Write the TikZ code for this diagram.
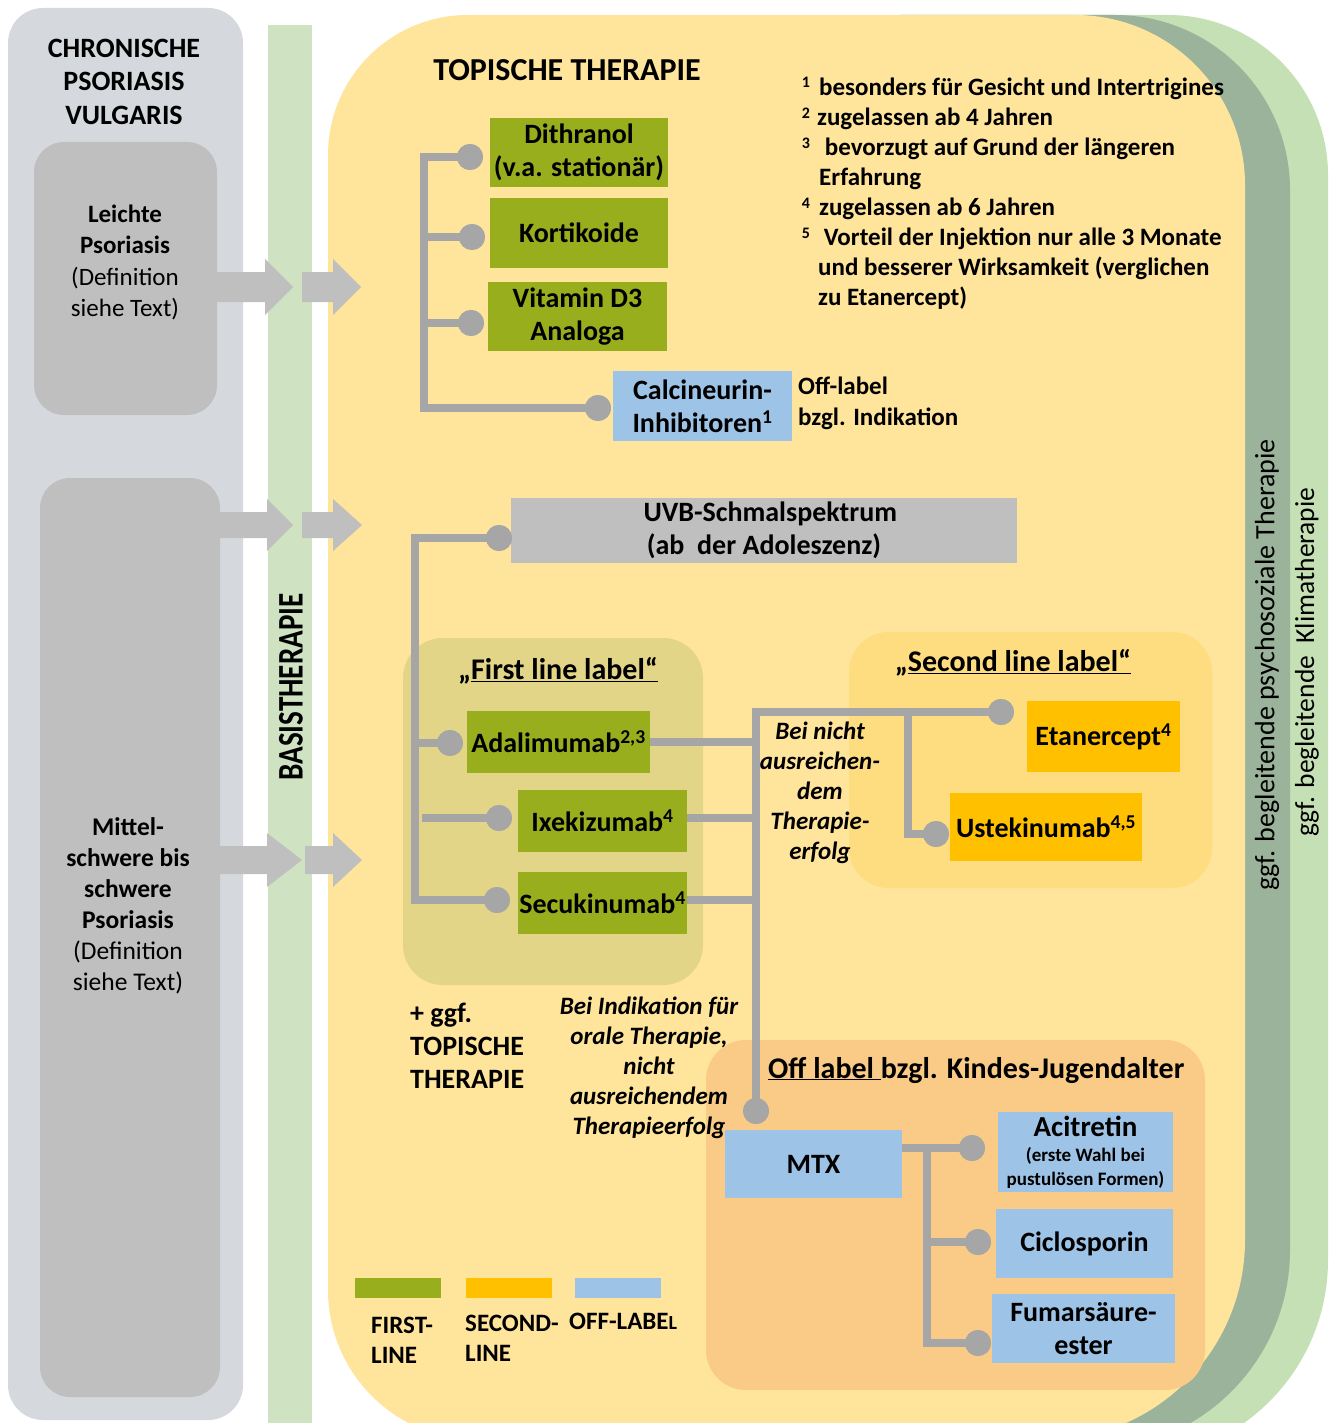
\documentclass[tikz,border=0pt]{standalone}
\usepackage{fontspec}
\setmainfont{Carlito}
\definecolor{panelgray}{HTML}{D5D9DD}
\definecolor{boxgray}{HTML}{BFBFBF}
\definecolor{barGreen}{HTML}{CFE3C3}
\definecolor{mainYellow}{HTML}{FFE49B}
\definecolor{sageG}{HTML}{9BB39B}
\definecolor{lightGreen}{HTML}{C5E0B4}
\definecolor{oliveG}{HTML}{98AE1C}
\definecolor{offBlue}{HTML}{9DC3E6}
\definecolor{orangeY}{HTML}{FFC000}
\definecolor{firstBg}{HTML}{E3D587}
\definecolor{secondBg}{HTML}{FEDC80}
\definecolor{offBg}{HTML}{F9CB86}
\definecolor{connGray}{HTML}{A6A6A6}
\newcommand\blkarrow[6]{%
  \fill[boxgray] (#1,#4-#5) -- (#2,#4-#5) -- (#2,#4-#6) -- (#3,#4) -- (#2,#4+#6) -- (#2,#4+#5) -- (#1,#4+#5) -- cycle;}
\tikzset{
  tbox/.style={inner sep=0pt, align=center, font=\bfseries\fontsize{28}{33}\selectfont},
  gbox/.style={tbox, fill=oliveG},
  bbox/.style={tbox, fill=offBlue},
  obox/.style={tbox, fill=orangeY},
  grp/.style={inner sep=0pt, rounded corners=40pt},
  conn/.style={draw=connGray, line width=8pt, line join=miter},
  dot/.style={circle, fill=connGray, minimum size=26pt, inner sep=0pt},
  fn/.style={inner sep=0pt, align=left, anchor=west, font=\bfseries\fontsize{25}{30}\selectfont},
  fnsup/.style={inner sep=0pt, font=\bfseries\fontsize{16}{18}\selectfont},
  lbl/.style={inner sep=0pt, align=center, font=\bfseries\fontsize{25}{31.5}\selectfont},
  itl/.style={inner sep=0pt, align=center, font=\bfseries\itshape\fontsize{25}{30}\selectfont},
  ttl/.style={inner sep=0pt, font=\bfseries\fontsize{30}{32}\selectfont},
  vtxt/.style={inner sep=0pt, rotate=90, font=\fontsize{28}{30}\selectfont}
}
\begin{document}
\begin{tikzpicture}[x=1pt,y=-1pt]
\useasboundingbox (0,0) rectangle (1336,1423);
\clip (0,0) rectangle (1336,1423);
\fill[white] (0,0) rectangle (1336,1423);

% ---- background bands (right) ----
\fill[lightGreen] (900,1460) -- (900,15) -- (1168,15)
  .. controls (1256.4,15) and (1328,86.6) .. (1328,175) -- (1328,1260)
  .. controls (1328,1370.5) and (1238.5,1460) .. (1128,1460) -- cycle;
\fill[sageG] (900,1450) -- (900,15) -- (1115,15)
  .. controls (1211.7,15) and (1290,93.3) .. (1290,190) -- (1290,1250)
  .. controls (1290,1360.5) and (1200.5,1450) .. (1090,1450) -- cycle;
\fill[mainYellow] (328,1290) -- (328,155)
  .. controls (328,77.7) and (390.7,15) .. (468,15) -- (1075,15)
  .. controls (1168.9,15) and (1245,91.1) .. (1245,185) -- (1245,1240)
  .. controls (1245,1350.5) and (1155.5,1440) .. (1045,1440) -- (478,1440)
  .. controls (395.2,1440) and (328,1372.8) .. (328,1290) -- cycle;

\node[vtxt] (psy) at (1267,665) {ggf. begleitende psychosoziale Therapie};
\node[vtxt, font=\fontsize{27.5}{30}\selectfont] (klima) at (1307,662) {ggf. begleitende\ \ Klimatherapie};

% ---- left panel ----
\node[fill=panelgray, rounded corners=35pt, minimum width=235pt, minimum height=1412pt, inner sep=0pt] (panel) at (125.5,714) {};
\node[fill=boxgray, rounded corners=30pt, minimum width=183pt, minimum height=273pt, inner sep=0pt] (leicht) at (125.5,278.5) {};
\node[fill=boxgray, rounded corners=30pt, minimum width=180pt, minimum height=919pt, inner sep=0pt] (mittel) at (130,937.5) {};
\node[inner sep=0pt, align=center, font=\bfseries\fontsize{28}{33.5}\selectfont] (chron) at (124,81.7) {CHRONISCHE\\PSORIASIS\\VULGARIS};
\node[lbl] (leichtTxt) at (125,262.7) {Leichte\\Psoriasis\\\mdseries (Definition\\\mdseries siehe Text)};
\node[lbl, font=\bfseries\fontsize{25.5}{31}\selectfont] (mittelTxt) at (128,905.5) {Mittel-\\schwere bis\\schwere\\Psoriasis\\\mdseries (Definition\\\mdseries siehe Text)};

% ---- green bar ----
\fill[barGreen] (268,25) rectangle (312,1423);
\node[inner sep=0pt, rotate=90, font=\bfseries\fontsize{36}{38}\selectfont] (basis) at (291,687) {\scalebox{0.81}[1]{BASISTHERAPIE}};

% ---- block arrows ----
\blkarrow{217}{265}{293}{287}{15}{28}
\blkarrow{302}{333}{361}{287}{15}{28}
\blkarrow{220}{267}{293}{525}{13}{26}
\blkarrow{302}{333}{362}{525}{13}{26}
\blkarrow{220}{267}{302}{860}{14}{27}
\blkarrow{305}{333}{362}{860}{14}{27}

% ---- titles and notes ----
\node[inner sep=0pt, font=\bfseries\fontsize{32}{34}\selectfont] (topTitle) at (567,70) {TOPISCHE THERAPIE};
\node[fnsup] (s1) at (806,82) {1};
\node[fn] (f1) at (819,89) {besonders für Gesicht und Intertrigines};
\node[fnsup] (s2) at (806,113) {2};
\node[fn] (f2) at (817,119) {zugelassen ab 4 Jahren};
\node[fnsup] (s3) at (806,143) {3};
\node[fn] (f3) at (819,164) {\ bevorzugt auf Grund der längeren\\Erfahrung};
\node[fnsup] (s4) at (806,203) {4};
\node[fn] (f4) at (819,209) {zugelassen ab 6 Jahren};
\node[fnsup] (s5) at (806,233) {5};
\node[fn] (f5) at (818,269) {\ Vorteil der Injektion nur alle 3 Monate\\und besserer Wirksamkeit (verglichen\\zu Etanercept)};

% ---- group backgrounds ----
\node[grp, fill=firstBg, minimum width=300pt, minimum height=347pt] (firstgrp) at (553,811.5) {};
\node[grp, fill=secondBg, minimum width=363pt, minimum height=256pt] (secondgrp) at (1030.5,760) {};
\node[grp, fill=offBg, minimum width=499pt, minimum height=350pt] (offgrp) at (955.5,1215) {};
\node[ttl] (firstTtl) at (558,671) {„\underline{First line label“}};
\node[ttl] (secondTtl) at (1013,663) {„\underline{Second line label“}};
\node[ttl, anchor=west] (offTtl) at (768,1070) {\underline{Off label }bzgl. Kindes-Jugendalter};

% ---- boxes ----
\node[gbox, minimum width=178pt, minimum height=69pt] (dith) at (579,152.5) {Dithranol\\(v.a. stationär)};
\node[gbox, minimum width=178pt, minimum height=70pt] (kort) at (579,233) {Kortikoide};
\node[gbox, minimum width=179pt, minimum height=69pt] (vitd) at (577.5,316.5) {Vitamin D3\\Analoga};
\node[bbox, minimum width=179pt, minimum height=70pt] (calc) at (702.5,406) {Calcineurin-\\Inhibitoren\textsuperscript{1}};
\node[fn, font=\bfseries\fontsize{25}{31}\selectfont] (offlab) at (798,403.5) {Off-label\\bzgl. Indikation};
\node[tbox, fill=boxgray, minimum width=506pt, minimum height=65pt] (uvb) at (764,530.5) {\ \ UVB-Schmalspektrum\\(ab\ \ der Adoleszenz)};
\node[gbox, minimum width=183pt, minimum height=62pt] (adal) at (558.5,742) {Adalimumab\textsuperscript{2,3}};
\node[gbox, minimum width=169pt, minimum height=62pt] (ixek) at (602.5,821) {Ixekizumab\textsuperscript{4}};
\node[gbox, minimum width=169pt, minimum height=62pt] (secu) at (602.5,903) {Secukinumab\textsuperscript{4}};
\node[obox, minimum width=153pt, minimum height=71pt] (etan) at (1103.5,736.5) {Etanercept\textsuperscript{4}};
\node[obox, minimum width=192pt, minimum height=68pt] (uste) at (1046,827) {Ustekinumab\textsuperscript{4,5}};
\node[bbox, minimum width=177pt, minimum height=68pt] (mtx) at (813.5,1164) {MTX};
\node[bbox, minimum width=175pt, minimum height=80pt] (acit) at (1085.5,1152) {{\fontsize{29}{29}\selectfont Acitretin}\\[-8pt]{\fontsize{19}{22}\selectfont (erste Wahl bei}\\[-9pt]{\fontsize{19}{22}\selectfont pustulösen Formen)}};
\node[bbox, minimum width=177pt, minimum height=69pt] (cicl) at (1084.5,1243.5) {Ciclosporin};
\node[bbox, minimum width=183pt, minimum height=69pt] (fuma) at (1083.5,1328.5) {Fumarsäure-\\ester};

% ---- italic notes ----
\node[itl] (beinicht) at (820,793) {Bei nicht\\ausreichen-\\dem\\Therapie-\\erfolg};
\node[itl] (beiind) at (649,1068) {Bei Indikation für\\orale Therapie,\\nicht\\ausreichendem\\Therapieerfolg};
\node[inner sep=0pt, align=left, anchor=west, font=\bfseries\fontsize{28}{33}\selectfont] (plusTop) at (410,1046) {+ ggf.\\TOPISCHE\\THERAPIE};

% ---- dots ----
\node[dot] (dDith) at (470,157) {};
\node[dot] (dKort) at (472,237) {};
\node[dot] (dVitD) at (471,323) {};
\node[dot] (dCalc) at (598,408) {};
\node[dot] (dUVB) at (499,538) {};
\node[dot] (dAdal) at (450,743) {};
\node[dot] (dIxek) at (499,818) {};
\node[dot] (dSecu) at (497,900) {};
\node[dot] (dEtan) at (1001,712) {};
\node[dot] (dUste) at (936,834) {};
\node[dot] (dMTX) at (756,1111) {};
\node[dot] (dAcit) at (972,1148) {};
\node[dot] (dCicl) at (978,1242) {};
\node[dot] (dFuma) at (978,1343) {};

% ---- trunk coordinates ----
\coordinate (tTop) at (424,157);
\coordinate (tBot) at (424,408);
\coordinate (mTop) at (415,538);
\coordinate (mBot) at (415,900);
\coordinate (mIx) at (422,818);
\coordinate (rTop) at (756,712);
\coordinate (rBr) at (908,712);
\coordinate (rBrB) at (908,834);
\coordinate (xTop) at (927,1148);
\coordinate (xBot) at (927,1343);

% ---- connectors ----
\draw[conn] (dDith.center) -- (tTop) -- (tBot) -- (dCalc.center);
\draw[conn] (dKort.center) -- (dKort.center -| tTop);
\draw[conn] (dVitD.center) -- (dVitD.center -| tTop);
\draw[conn] (dUVB.center) -- (mTop) -- (mBot) -- (dSecu.center);
\draw[conn] (dAdal.center) -- (dAdal.center -| mTop);
\draw[conn] (dIxek.center) -- (mIx);
\draw[conn] (dMTX.center) -- (rTop) -- (dEtan.center);
\draw[conn] (rBr) -- (rBrB) -- (dUste.center);
\draw[conn] (adal.east) -- (adal.east -| rTop);
\draw[conn] (ixek.east |- dIxek) -- (dIxek -| rTop);
\draw[conn] (secu.east |- dSecu) -- (dSecu -| rTop);
\draw[conn] (mtx.east |- dAcit) -- (dAcit.center);
\draw[conn] (xTop) -- (xBot) -- (dFuma.center);
\draw[conn] (dCicl.center) -- (dCicl.center -| xTop);
\foreach \d in {dDith,dKort,dVitD,dCalc,dUVB,dAdal,dIxek,dSecu,dEtan,dUste,dMTX,dAcit,dCicl,dFuma}
  \fill[connGray] (\d) circle (13pt);

% ---- legend ----
\fill[oliveG] (355,1278) rectangle (441,1298);
\fill[orangeY] (466,1278) rectangle (552,1298);
\fill[offBlue] (575,1278) rectangle (661,1298);
\node[fn] (lgFirst) at (371,1340) {FIRST-\\LINE};
\node[fn] (lgSecond) at (465,1338) {SECOND-\\LINE};
\node[fn] (lgOff) at (569,1321) {OFF-LABE{\fontsize{20}{22}\selectfont L}};
\end{tikzpicture}
\end{document}
